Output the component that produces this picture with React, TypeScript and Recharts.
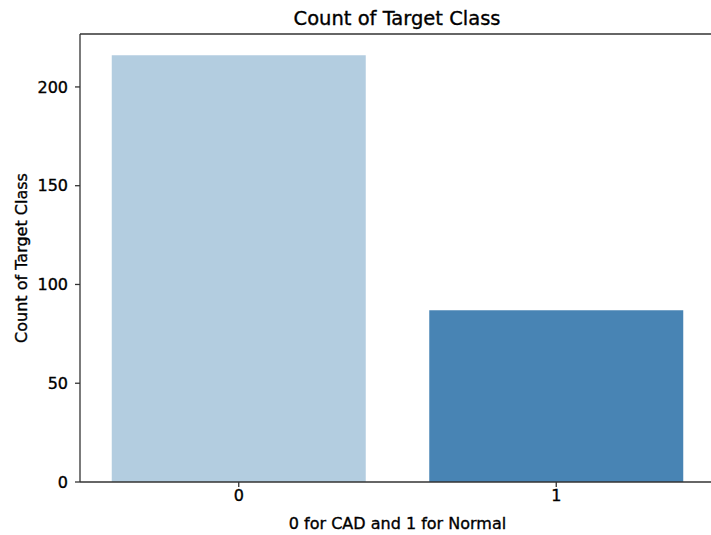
import React from "react";
import { BarChart, Bar, XAxis, YAxis, Cell, ReferenceLine, Label } from "recharts";

const categories = ["0", "1"];
const counts = [216, 87];
const barColors = ["#b3cde0", "#4884b4"];
const yTicks = [0, 50, 100, 150, 200];
const yMax = 226.8;

const data = categories.map((c, i) => ({ name: c, count: counts[i] }));

const FONT = "DejaVu Sans";
const TXT = { fill: "#000", stroke: "#000", strokeWidth: 0.35, fontFamily: FONT };

export default function App() {
  return (
    <div
      style={{
        position: "absolute",
        left: 0,
        top: 0,
        width: 711,
        height: 535,
        overflow: "hidden",
        background: "#fff",
        fontFamily: FONT,
      }}
    >
      <svg width={711} height={34} style={{ position: "absolute", left: 0, top: 0 }}>
        <text x={397} y={25} textAnchor="middle" fontSize={19.5} {...TXT}>
          Count of Target Class
        </text>
      </svg>
      <BarChart
        width={720}
        height={535}
        data={data}
        margin={{ top: 34, right: 5, bottom: 0, left: 0 }}
        barCategoryGap="10%"
      >
        <XAxis
          dataKey="name"
          stroke="#333"
          strokeWidth={1.3}
          tickSize={5}
          tickMargin={3}
          height={53}
          tick={{ ...TXT, fontSize: 16 }}
        >
          <Label
            value="0 for CAD and 1 for Normal"
            content={(props: any) => {
              const vb = props.viewBox || {};
              return (
                <text
                  x={vb.x + vb.width / 2}
                  y={529}
                  textAnchor="middle"
                  fontSize={16}
                  {...TXT}
                >
                  0 for CAD and 1 for Normal
                </text>
              );
            }}
          />
        </XAxis>
        <YAxis
          type="number"
          domain={[0, yMax]}
          ticks={yTicks}
          width={80}
          stroke="#333"
          strokeWidth={1.3}
          tickSize={5}
          tickMargin={7}
          interval={0}
          tick={{ ...TXT, fontSize: 16 }}
        >
          <Label
            value="Count of Target Class"
            content={(props: any) => {
              const vb = props.viewBox || {};
              const cy = vb.y + vb.height / 2;
              return (
                <text
                  x={27}
                  y={cy}
                  transform={`rotate(-90, 27, ${cy})`}
                  textAnchor="middle"
                  fontSize={16}
                  {...TXT}
                >
                  Count of Target Class
                </text>
              );
            }}
          />
        </YAxis>
        <ReferenceLine y={yMax} stroke="#333" strokeWidth={1.3} />
        <Bar dataKey="count" isAnimationActive={false}>
          {data.map((d, i) => (
            <Cell key={d.name} fill={barColors[i]} />
          ))}
        </Bar>
      </BarChart>
    </div>
  );
}
